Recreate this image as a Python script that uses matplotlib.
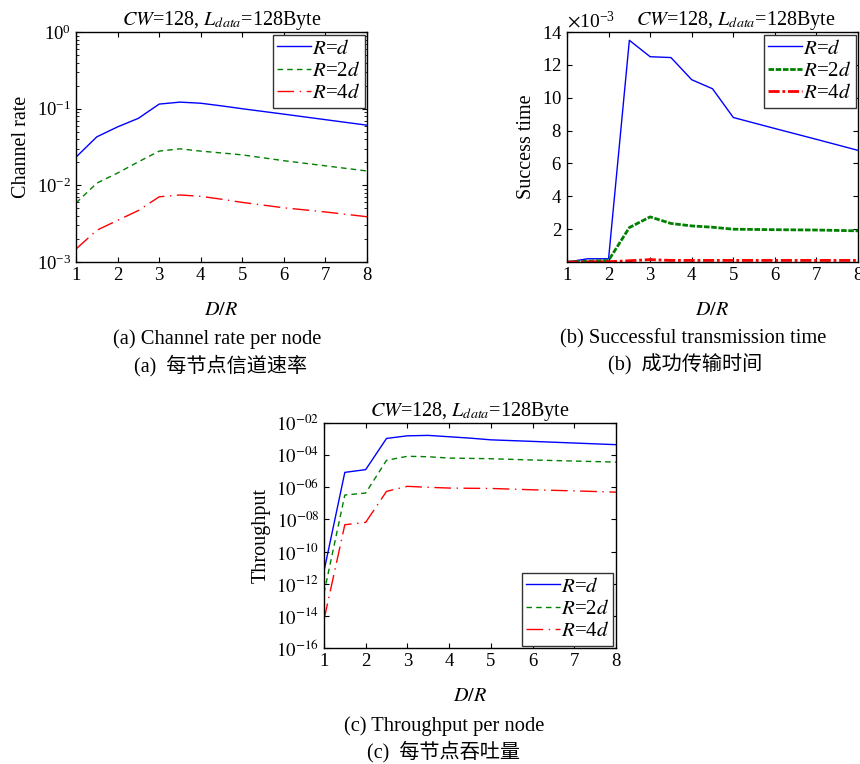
#!/usr/bin/env python

"""
plot.py
=======

Channel rate, success time and throughput per node vs D/R,
for R=d, R=2d and R=4d (CW=128, L_data=128Byte).
"""

import math

import matplotlib
matplotlib.use("Agg")
import matplotlib.pyplot as plt
from matplotlib.ticker import FuncFormatter, NullLocator, ScalarFormatter


plt.rcParams['font.family'] = ['Liberation Serif', 'DejaVu Serif']
plt.rcParams['mathtext.fontset'] = 'stix'
plt.rcParams['font.size'] = 14

d_over_r = [1, 1.5, 2, 2.5, 3, 3.5, 4, 4.5, 5, 6, 7, 8]
series_labels = [r"$R$=$d$", r"$R$=2$d$", r"$R$=4$d$"]

rate_d = [0.0234, 0.043, 0.058, 0.075, 0.115, 0.122, 0.118, 0.109, 0.100, 0.085, 0.072, 0.061]
rate_2d = [0.0059, 0.0107, 0.0145, 0.0203, 0.028, 0.030, 0.028, 0.0265, 0.025, 0.021, 0.018, 0.0154]
rate_4d = [0.00148, 0.0026, 0.0035, 0.0047, 0.0071, 0.0075, 0.0072, 0.0066, 0.006, 0.0051, 0.0045, 0.0039]

time_d = [0, 0.2e-3, 0.2e-3, 13.5e-3, 12.5e-3, 12.45e-3, 11.1e-3, 10.55e-3, 8.8e-3, 8.13e-3, 7.47e-3, 6.8e-3]
time_2d = [0, 0.05e-3, 0.1e-3, 2.1e-3, 2.75e-3, 2.35e-3, 2.2e-3, 2.12e-3, 2.0e-3, 1.97e-3, 1.95e-3, 1.9e-3]
time_4d = [0, 0.01e-3, 0.02e-3, 0.08e-3, 0.15e-3, 0.1e-3, 0.1e-3, 0.1e-3, 0.1e-3, 0.1e-3, 0.1e-3, 0.1e-3]

thr_d = [6e-12, 8.5e-6, 1.26e-5, 1.1e-3, 1.6e-3, 1.7e-3, 1.4e-3, 1.15e-3, 9e-4, 7.2e-4, 5.7e-4, 4.5e-4]
thr_2d = [2.6e-13, 3.3e-7, 4.4e-7, 4.8e-5, 8.5e-5, 8e-5, 6.6e-5, 6.3e-5, 6e-5, 5e-5, 4.3e-5, 3.7e-5]
thr_4d = [5.7e-15, 4.7e-9, 6.6e-9, 5.6e-7, 1.15e-6, 1.0e-6, 9e-7, 8.7e-7, 8.5e-7, 7e-7, 6e-7, 5e-7]

title = r"$CW$=128, $L_{data}$=128Byte"
cjk = ['Liberation Serif', 'Noto Sans CJK SC']


def style_axes(ax):
    ax.set_xlim(1, 8)
    ax.set_xticks(range(1, 9))
    ax.tick_params(direction='in', which='both', top=True, right=True, labelsize=13.5)
    ax.set_xlabel(r"$D/R$", fontsize=14.5, labelpad=12)
    for s in ax.spines.values():
        s.set_linewidth(1.0)


def draw_lines(ax, ys, lw=(1.0, 1.0, 1.0), dash2=(4, 3), dash4=(12, 4, 1, 4)):
    ax.plot(d_over_r, ys[0], color='#0000ff', lw=lw[0], label=series_labels[0])
    ax.plot(d_over_r, ys[1], color='#008000', lw=lw[1], dashes=dash2, label=series_labels[1])
    ax.plot(d_over_r, ys[2], color='#ff0000', lw=lw[2], dashes=dash4, label=series_labels[2])


def add_legend(ax, loc):
    leg = ax.legend(loc=loc, fontsize=15, fancybox=False, framealpha=1, edgecolor='#333333',
                    handlelength=1.6, handletextpad=0.05, borderaxespad=0.12,
                    borderpad=0.22, labelspacing=0.12)
    leg.get_frame().set_linewidth(1.0)


def main():
    fig = plt.figure(figsize=(8.6, 7.64), dpi=100)

    # (a) channel rate
    ax = fig.add_axes([0.0884, 0.657, 0.3384, 0.301])
    draw_lines(ax, [rate_d, rate_2d, rate_4d])
    ax.set_yscale('log')
    ax.set_ylim(1e-3, 1)
    style_axes(ax)
    ax.set_ylabel("Channel rate", fontsize=14.5)
    ax.set_title(title, fontsize=14.5, pad=2)
    add_legend(ax, 'upper right')

    # (b) success time
    ax = fig.add_axes([0.6593, 0.657, 0.3384, 0.301])
    draw_lines(ax, [time_d, time_2d, time_4d], lw=(1.0, 2.0, 2.0),
               dash2=(2, 0.6), dash4=(4, 1, 1, 1))
    ax.set_ylim(0, 14e-3)
    ax.set_yticks([v * 1e-3 for v in range(2, 15, 2)])
    fmt = ScalarFormatter(useMathText=True)
    fmt.set_powerlimits((-3, -3))
    ax.yaxis.set_major_formatter(fmt)
    ax.yaxis.get_offset_text().set_fontsize(14)
    style_axes(ax)
    ax.set_ylabel("Success time", fontsize=14.5)
    ax.set_title(title, fontsize=14.5, pad=2, x=0.58)
    add_legend(ax, 'upper right')

    # (c) throughput
    ax = fig.add_axes([0.3767, 0.1518, 0.3395, 0.2945])
    draw_lines(ax, [thr_d, thr_2d, thr_4d])
    ax.set_yscale('log')
    ax.set_ylim(1e-16, 1e-2)
    ax.set_yticks([10.0 ** -k for k in range(16, 1, -2)])
    ax.yaxis.set_minor_locator(NullLocator())
    ax.yaxis.set_major_formatter(FuncFormatter(lambda v, p: r"$10^{-%02d}$" % round(-math.log10(v))))
    style_axes(ax)
    ax.set_ylabel("Throughput", fontsize=14.5)
    ax.set_title(title, fontsize=14.5, pad=2)
    add_legend(ax, 'lower right')

    # captions
    fig.text(0.252, 0.556, "(a) Channel rate per node", ha='center', va='center', fontsize=14.8)
    fig.text(0.257, 0.522, "(a)  每节点信道速率", ha='center', va='center', fontsize=14.5, family=cjk)
    fig.text(0.806, 0.556, "(b) Successful transmission time", ha='center', va='center', fontsize=14.8)
    fig.text(0.797, 0.522, "(b)  成功传输时间", ha='center', va='center', fontsize=14.5, family=cjk)
    fig.text(0.516, 0.049, "(c) Throughput per node", ha='center', va='center', fontsize=14.8)
    fig.text(0.516, 0.016, "(c)  每节点吞吐量", ha='center', va='center', fontsize=14.5, family=cjk)

    fig.savefig("out.png", dpi=100)


if __name__ == "__main__":
    main()
